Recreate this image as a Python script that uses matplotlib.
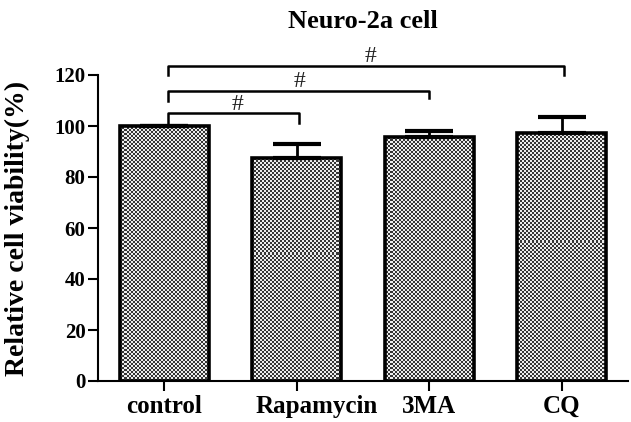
import numpy as np
import matplotlib
matplotlib.use('Agg')
import matplotlib.pyplot as plt
from matplotlib.transforms import ScaledTranslation

groups = ['control', 'Rapamycin', '3MA', 'CQ']
viability = [100.0, 87.5, 95.5, 97.3]
sem = [0.0, 5.3, 2.5, 6.2]

# significance brackets: (left x, right x, line y, left drop, right drop)
brackets = [(0.03, 1.02, 105.0, 100.0, 101.0),
            (0.03, 2.00, 113.7, 110.0, 110.8),
            (0.03, 3.02, 123.5, 120.0, 120.0)]
marks = [(0.55, 104.5), (1.02, 113.2), (1.56, 123.0)]

plt.rcParams['font.family'] = ['Liberation Serif', 'DejaVu Serif']
plt.rcParams['font.weight'] = 'bold'

fig = plt.figure(figsize=(6.31, 4.22), dpi=100)
ax = fig.add_axes([98/631, 41/422, 530/631, 306/422])

x = np.arange(len(groups))
bars = ax.bar(x, viability, width=0.675, color='none', edgecolor='black',
              linewidth=2.6, zorder=3)

# checkerboard fill, clipped to each bar
ny, nx = 306 // 2, 530 // 2
checker = (np.indices((ny, nx)).sum(axis=0) % 2).astype(float)
for b in bars:
    im = ax.imshow(checker, cmap='gray', vmin=-0.3, vmax=1.1,
                   extent=[0, 1, 0, 1], transform=ax.transAxes,
                   interpolation='nearest', aspect='auto', zorder=2)
    im.set_clip_path(b)

ax.errorbar(x, viability, yerr=[np.zeros(len(sem)), sem], fmt='none',
            ecolor='black', elinewidth=2.0, capsize=17, capthick=3, zorder=4)

for x0, x1, yl, d0, d1 in brackets:
    ax.plot([x0, x0, x1, x1], [d0, yl, yl, d1], color='black', lw=1.8,
            clip_on=False, zorder=5)
for xm, ym in marks:
    ax.text(xm, ym, '#', ha='center', va='bottom', fontsize=17,
            fontweight='normal', color='#222222', clip_on=False)

ax.set_xlim(-0.5, 3.5)
ax.set_ylim(0, 120)
ax.set_yticks(np.arange(0, 121, 20))
ax.set_xticks(x)
ax.set_xticklabels(groups, fontsize=18, fontweight='bold')
ax.tick_params(axis='y', labelsize=15, length=7, width=1.5, pad=2)
ax.tick_params(axis='x', length=7, width=1.5, pad=3)
for lab in ax.get_yticklabels():
    lab.set_fontweight('bold')

# the Rapamycin label sits a bit right of its tick
lab = ax.get_xticklabels()[1]
lab.set_transform(lab.get_transform() + ScaledTranslation(20/100, 0, fig.dpi_scale_trans))

for s in ['top', 'right']:
    ax.spines[s].set_visible(False)
ax.spines['left'].set_linewidth(1.5)
ax.spines['bottom'].set_linewidth(1.5)

ax.set_ylabel('Relative cell viability(%)', fontsize=20, fontweight='bold')
ax.yaxis.set_label_coords(-0.128, 0.50)

fig.text(0.575, 0.95, 'Neuro-2a cell', ha='center', va='center',
         fontsize=19, fontweight='bold')

fig.savefig('out.png', dpi=100)
